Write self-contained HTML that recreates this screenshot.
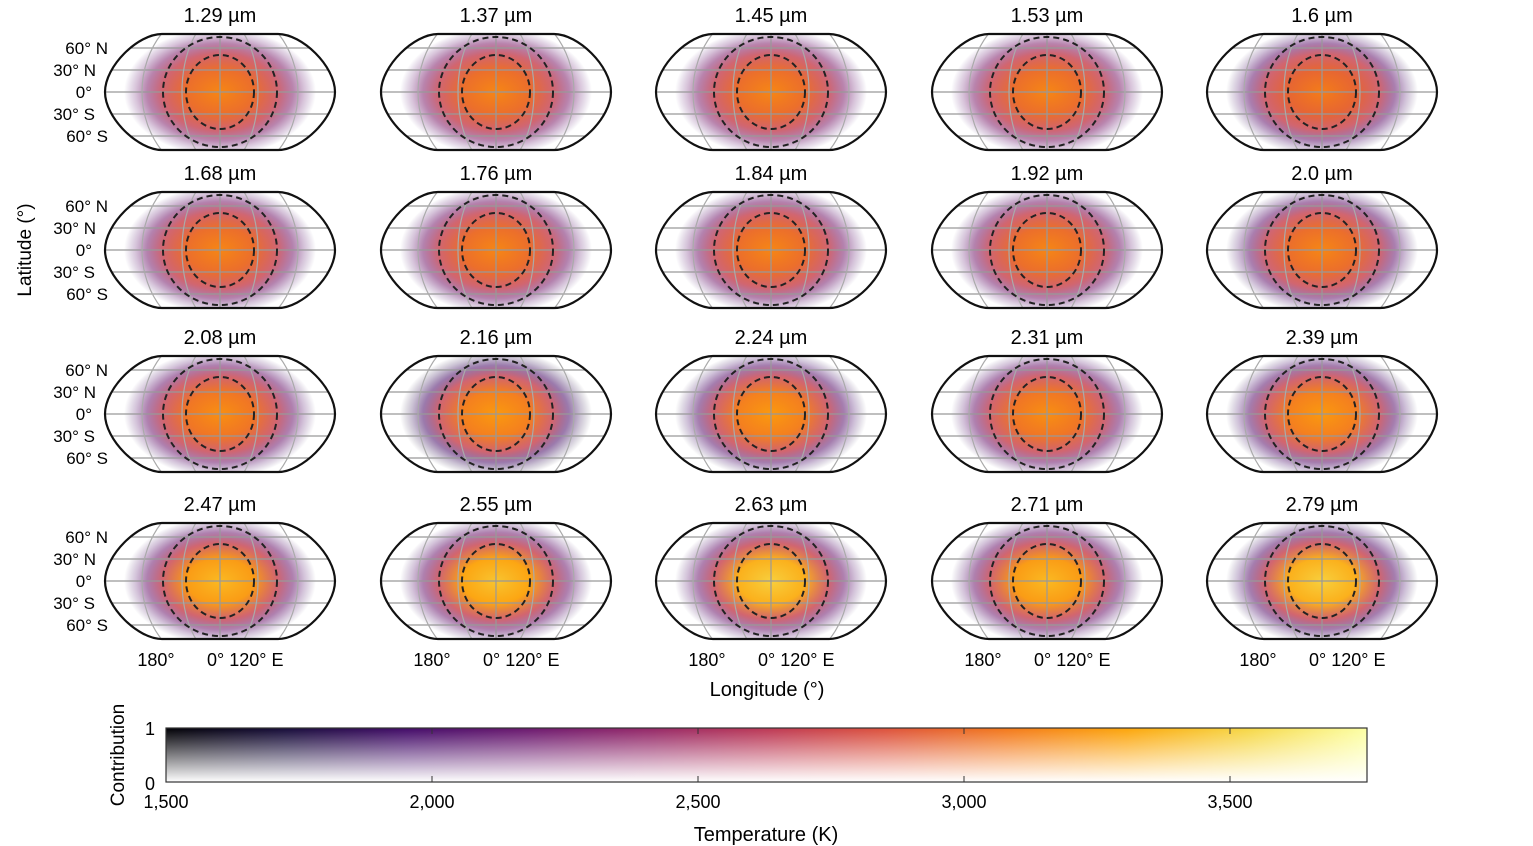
<!DOCTYPE html>
<html><head><meta charset="utf-8"><style>
body{margin:0;background:#fff;}
svg{display:block;font-family:"Liberation Sans",sans-serif;}
</style></head><body>
<svg id="fig" width="1533" height="846" viewBox="0 0 1533 846" xmlns="http://www.w3.org/2000/svg">
<defs id="defs">
<linearGradient id="cbH" x1="0" x2="1" y1="0" y2="0"></linearGradient>
<linearGradient id="cbV" x1="0" x2="0" y1="0" y2="1">
<stop offset="0" stop-color="#fff" stop-opacity="0"/><stop offset="1" stop-color="#fff" stop-opacity="1"/>
</linearGradient>
</defs>
<text x="31" y="250" font-size="19" text-anchor="middle" transform="rotate(-90 31 250)">Latitude (°)</text>
<text x="767" y="696" font-size="20" text-anchor="middle">Longitude (°)</text>
<g id="panels"></g>
<g id="colorbar"></g>
</svg>
<script>
const wavelengths=["1.29","1.37","1.45","1.53","1.6","1.68","1.76","1.84","1.92","2.0","2.08","2.16","2.24","2.31","2.39","2.47","2.55","2.63","2.71","2.79"];
const peakTemps=[3150,3150,3150,3150,3100,3150,3150,3150,3150,3150,3200,3250,3250,3200,3250,3400,3450,3500,3400,3500];
const edgeTemps=[2150,2150,2150,2150,2000,2100,2100,2100,2100,2000,2050,1850,1950,2050,1950,2050,2050,2050,2050,1950];
const cbTicks=[1500,2000,2500,3000,3500];
const cbTickLabels=["1,500","2,000","2,500","3,000","3,500"];
const latLabels=["60° N","30° N","0°","30° S","60° S"];
const lats=[60,30,0,-30,-60];

const NS="http://www.w3.org/2000/svg";
const inferno=["#000004","#160b39","#420a68","#6a176e","#932667","#bc3754","#dd513a","#f37819","#fca50a","#f6d746","#fcffa4"];
const Tmin=1500,Tmax=3760;
function hex(h){return [1,3,5].map(i=>parseInt(h.substr(i,2),16));}
function cmap(T){let t=Math.max(0,Math.min(1,(T-Tmin)/(Tmax-Tmin)))*10;let i=Math.min(9,Math.floor(t)),f=t-i;
 const a=hex(inferno[i]),b=hex(inferno[i+1]);return "rgb("+a.map((v,k)=>Math.round(v+(b[k]-v)*f)).join(",")+")";}
function el(tag,attrs,parent){const e=document.createElementNS(NS,tag);for(const k in attrs)e.setAttribute(k,attrs[k]);parent.appendChild(e);return e;}
const defs=document.getElementById('defs');
const panels=document.getElementById('panels');
const colX=[220,496,771,1047,1322];
const rowY=[92,250,414,581];
const HW=115,HH=58;
const labelEnd=[-112,-124,-128,-125,-112];
function yLat(cy,lat){return cy-lat/60*44;}
function shapePath(cx,cy){return `M${cx-58},${cy-HH} L${cx+58},${cy-HH} C${cx+82},${cy-HH} ${cx+HW},${cy-26} ${cx+HW},${cy} C${cx+HW},${cy+26} ${cx+82},${cy+HH} ${cx+58},${cy+HH} L${cx-58},${cy+HH} C${cx-82},${cy+HH} ${cx-HW},${cy+26} ${cx-HW},${cy} C${cx-HW},${cy-26} ${cx-82},${cy-HH} ${cx-58},${cy-HH} Z`;}

wavelengths.forEach((w,i)=>{
 const r=Math.floor(i/5),c=i%5,cx=colX[c],cy=rowY[r];
 const g=el('g',{},panels);
 
 
 const t=el('text',{x:cx,y:cy-70,'font-size':20,'text-anchor':'middle'},g);
 t.textContent=w+' µm';
 
 
 const clip=el('clipPath',{id:'clip'+i},defs);
 el('path',{d:shapePath(cx,cy)},clip);
 const rg=el('radialGradient',{id:'rg'+i,cx:'50%',cy:'50%',r:'50%'},defs);
 const T0=peakTemps[i],Te=edgeTemps[i];
 [[0,T0,1],[0.35,T0-150,0.97],[0.6,2700,0.8],[0.76,Te+150,0.55],[0.88,Te,0.25],[1,Te-200,0]].forEach(s=>{
  el('stop',{offset:s[0],'stop-color':cmap(s[1]),'stop-opacity':s[2]},rg);});
 const inner=el('g',{'clip-path':`url(#clip${i})`},g);
 const blob=el('ellipse',{cx:cx,cy:cy,rx:96,ry:64,fill:`url(#rg${i})`},inner);
 
 
 lats.forEach(l=>el('line',{x1:cx-HW,x2:cx+HW,y1:yLat(cy,l),y2:yLat(cy,l),stroke:'#999','stroke-width':1.2},inner));
 el('line',{x1:cx,x2:cx,y1:cy-HH,y2:cy+HH,stroke:'#999','stroke-width':1.2},inner);
 [[38,75],[78,88]].forEach(e=>el('ellipse',{cx:cx,cy:cy,rx:e[0],ry:e[1],fill:'none',stroke:'#aaa','stroke-width':1.2},inner));
 el('ellipse',{cx:cx,cy:cy,rx:34,ry:37,fill:'none',stroke:'#222','stroke-width':2,'stroke-dasharray':'6,4'},g);
 el('ellipse',{cx:cx,cy:cy,rx:57,ry:55,fill:'none',stroke:'#222','stroke-width':2,'stroke-dasharray':'6,4'},g);
 const o=el('path',{d:shapePath(cx,cy),fill:'none',stroke:'#111','stroke-width':2.2},g);
 
 
 if(c===0){lats.forEach((l,k)=>{const tl=el('text',{x:cx+labelEnd[k],y:yLat(cy,l)+6,'font-size':17,'text-anchor':'end'},g);tl.textContent=latLabels[k];
  
  });}
 if(r===3){const a=el('text',{x:cx-64,y:666,'font-size':18,'text-anchor':'middle'},g);a.textContent='180°';
  
  
  const b=el('text',{x:cx-13,y:666,'font-size':18},g);b.textContent='0° 120° E';
  
  }
});

// colorbar
const cbH=document.getElementById('cbH');
for(let k=0;k<=20;k++){const T=Tmin+(Tmax-Tmin)*k/20;el('stop',{offset:k/20,'stop-color':cmap(T)},cbH);}
const cb=document.getElementById('colorbar');
const X0=166,X1=1367,Y0=728,Y1=782;
function xT(T){return X0+(T-1500)/500*266;}
el('rect',{x:X0,y:Y0,width:X1-X0,height:Y1-Y0,fill:'url(#cbH)'},cb);
el('rect',{x:X0,y:Y0,width:X1-X0,height:Y1-Y0,fill:'url(#cbV)'},cb);
el('rect',{x:X0,y:Y0,width:X1-X0,height:Y1-Y0,fill:'none',stroke:'#333','stroke-width':1.2},cb);
cbTicks.forEach((T,k)=>{const x=xT(T);
 el('line',{x1:x,x2:x,y1:Y0,y2:Y0+6,stroke:'#333'},cb);el('line',{x1:x,x2:x,y1:Y1-6,y2:Y1,stroke:'#333'},cb);
 const t=el('text',{x:x,y:808,'font-size':18,'text-anchor':'middle'},cb);t.textContent=cbTickLabels[k];
 
 });
const one=el('text',{x:155,y:735,'font-size':18,'text-anchor':'end'},cb);one.textContent='1';


const zero=el('text',{x:155,y:790,'font-size':18,'text-anchor':'end'},cb);zero.textContent='0';


const ct=el('text',{x:124,y:755,'font-size':19,'text-anchor':'middle',transform:'rotate(-90 124 755)'},cb);ct.textContent='Contribution';


const tt=el('text',{x:766,y:841,'font-size':20,'text-anchor':'middle'},cb);tt.textContent='Temperature (K)';


</script>
</body></html>
